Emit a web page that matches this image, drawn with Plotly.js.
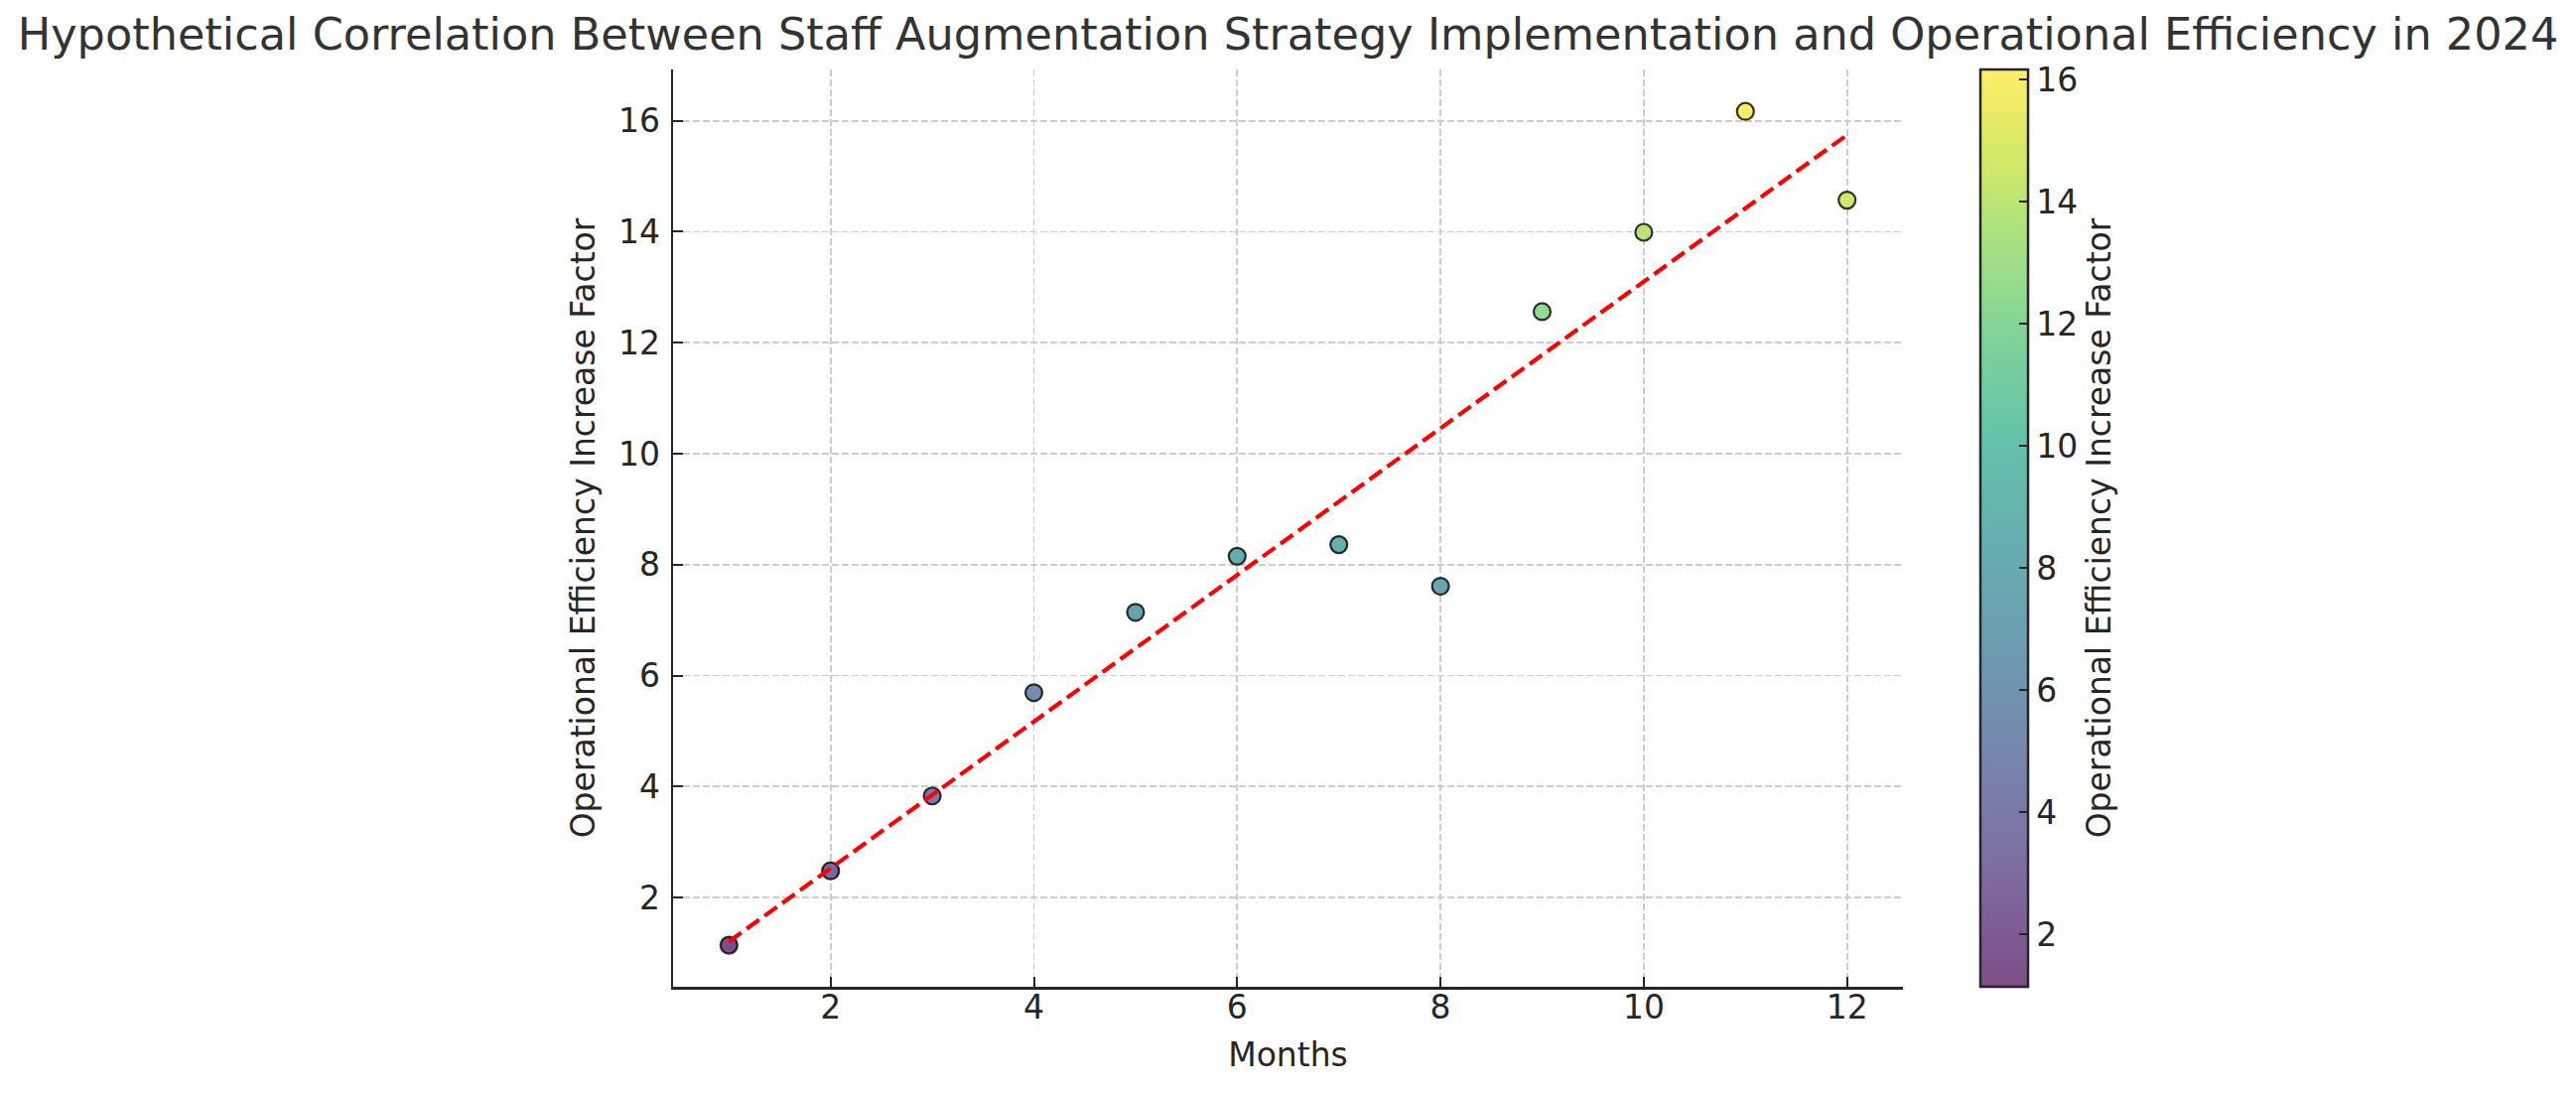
<!DOCTYPE html>
<html>
<head>
<meta charset="utf-8">
<script src="https://cdn.plot.ly/plotly-3.0.1.min.js"></script>
<style>
  html, body { margin: 0; padding: 0; background: #fff; }
  #myPlot { width: 2595px; height: 1101px; }
</style>
</head>
<body>
<div id="myPlot"></div>
<script>
// data
var months = [1, 2, 3, 4, 5, 6, 7, 8, 9, 10, 11, 12];
var efficiency = [1.14, 2.48, 3.83, 5.69, 7.14, 8.15, 8.36, 7.61, 12.56, 13.99, 16.17, 14.57];
var xTicks = [2, 4, 6, 8, 10, 12];
var yTicks = [2, 4, 6, 8, 10, 12, 14, 16];

// viridis stops, faded toward white like alpha 0.7 on a white page
var viridis = ['#440154', '#482475', '#414487', '#355f8d', '#2a788e', '#21918c',
               '#22a884', '#44bf70', '#7ad151', '#bddf26', '#fde725'];
function fade(hex, a) {
    var r = parseInt(hex.substr(1, 2), 16);
    var g = parseInt(hex.substr(3, 2), 16);
    var b = parseInt(hex.substr(5, 2), 16);
    r = Math.round(r * a + 255 * (1 - a));
    g = Math.round(g * a + 255 * (1 - a));
    b = Math.round(b * a + 255 * (1 - a));
    return 'rgb(' + r + ',' + g + ',' + b + ')';
}
var scale = [];
for (var i = 0; i < viridis.length; ++i) {
    scale.push([i / (viridis.length - 1), fade(viridis[i], 0.7)]);
}

// least squares trend line
function fitLine(x, y) {
    var n = x.length, sx = 0, sy = 0, sxx = 0, sxy = 0;
    for (var i = 0; i < n; ++i) {
        sx += x[i]; sy += y[i];
        sxx += x[i] * x[i]; sxy += x[i] * y[i];
    }
    var m = (n * sxy - sx * sy) / (n * sxx - sx * sx);
    var b = (sy - m * sx) / n;
    return x.map(function (v) { return m * v + b; });
}
var trend = fitLine(months, efficiency);

var font = 'DejaVu Sans, sans-serif';
var dark = '#262626';

var scatterTrace = {
    x: months,
    y: efficiency,
    mode: 'markers',
    type: 'scatter',
    showlegend: false,
    marker: {
        size: 17,
        color: efficiency,
        colorscale: scale,
        cmin: Math.min.apply(null, efficiency),
        cmax: Math.max.apply(null, efficiency),
        line: { color: 'rgba(0,0,0,0.8)', width: 2.2 },
        colorbar: {
            x: 1.063,
            xanchor: 'left',
            xpad: 0,
            y: 0,
            yanchor: 'bottom',
            ypad: 0,
            len: 1,
            lenmode: 'fraction',
            thickness: 48,
            outlinewidth: 2.5,
            outlinecolor: dark,
            ticks: 'inside',
            ticklen: 10,
            tickwidth: 2,
            tickcolor: dark,
            tickvals: yTicks,
            tickfont: { family: font, size: 33, color: dark },
            title: {
                text: 'Operational Efficiency Increase Factor',
                side: 'right',
                font: { family: font, size: 33, color: dark }
            }
        }
    }
};

// trend line sits on top of the markers
var trendTrace = {
    x: months,
    y: trend,
    mode: 'lines',
    line: { color: 'red', width: 4.2, dash: '15.4px,6.7px' },
    hoverinfo: 'skip',
    showlegend: false
};

var axisCommon = {
    showgrid: true,
    gridcolor: '#cccccc',
    gridwidth: 1.7,
    griddash: '7px,3px',
    zeroline: false,
    showline: true,
    linecolor: dark,
    linewidth: 2.5,
    ticks: 'inside',
    ticklen: 10,
    tickwidth: 2,
    tickcolor: dark,
    tickfont: { family: font, size: 33, color: dark },
    mirror: false
};

var layout = {
    width: 2595,
    height: 1101,
    paper_bgcolor: '#ffffff',
    plot_bgcolor: '#ffffff',
    margin: { l: 678, r: 678, t: 70, b: 107 },
    title: {
        text: 'Hypothetical Correlation Between Staff Augmentation Strategy Implementation and Operational Efficiency in 2024',
        font: { family: font, size: 44.6, color: '#333333' },
        x: 0.5,
        xanchor: 'center',
        y: 0.955,
        yanchor: 'bottom'
    },
    xaxis: Object.assign({}, axisCommon, {
        range: [0.45, 12.55],
        tickvals: xTicks,
        ticklabelstandoff: -10,
        title: { text: 'Months', font: { family: font, size: 33, color: dark }, standoff: 18 }
    }),
    yaxis: Object.assign({}, axisCommon, {
        range: [0.39, 16.925],
        tickvals: yTicks,
        ticklabelstandoff: 4,
        title: { text: 'Operational Efficiency Increase Factor', font: { family: font, size: 33, color: dark }, standoff: 14 }
    })
};

var config = { staticPlot: true, displayModeBar: false };

Plotly.newPlot('myPlot', [scatterTrace, trendTrace], layout, config);
</script>
</body>
</html>
